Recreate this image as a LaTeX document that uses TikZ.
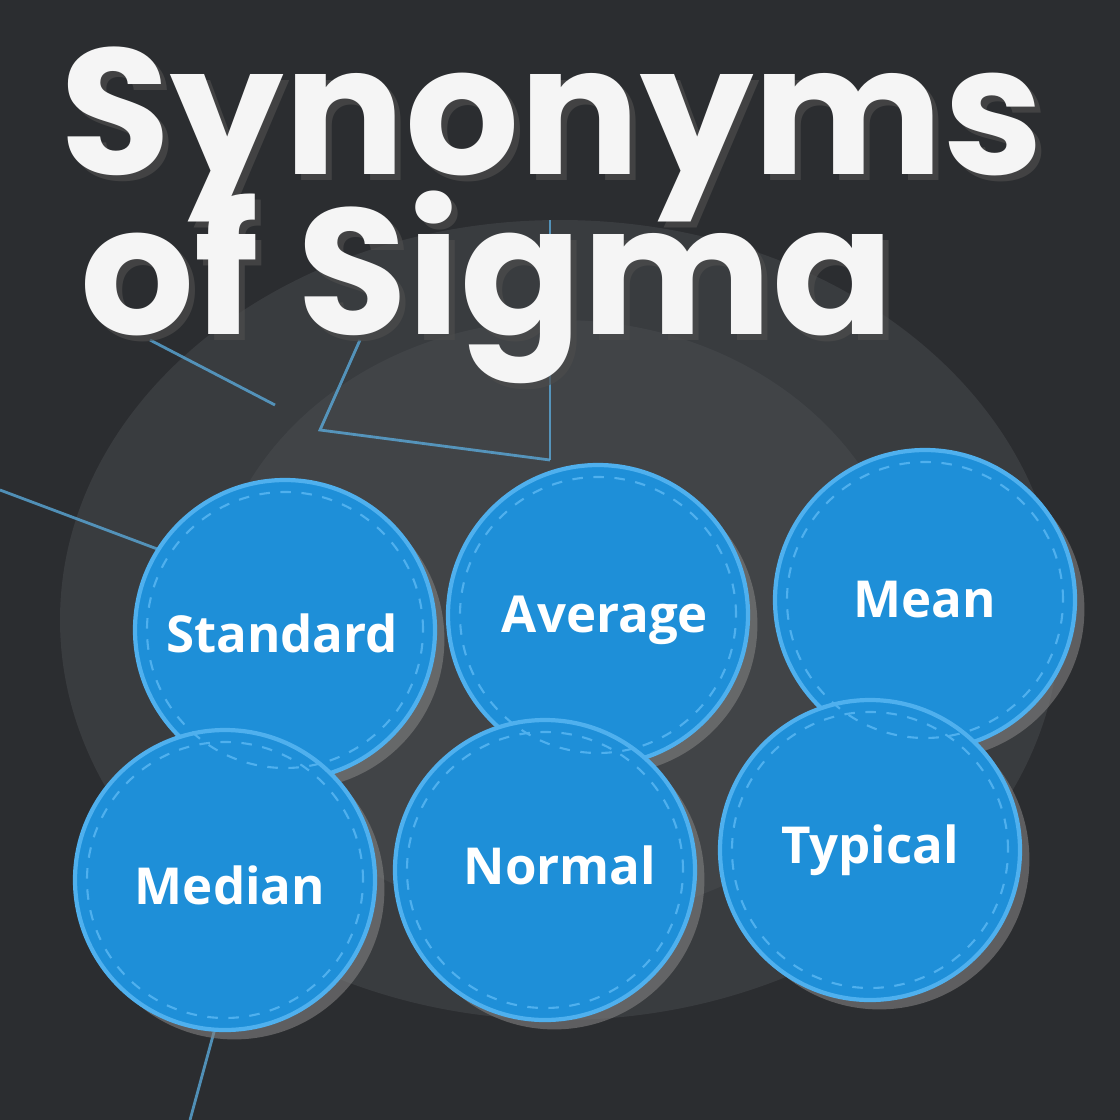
\documentclass[tikz,border=0pt]{standalone}
\usepackage{fontspec}
\setmainfont{Open Sans}
\newfontfamily\titlefont{Poppins}
\usetikzlibrary{shadows}
\definecolor{bg}{HTML}{2B2D30}
\definecolor{bgl}{HTML}{55585C}
\definecolor{ball}{HTML}{1E8FD8}
\definecolor{ballrim}{HTML}{4FB0EE}
\definecolor{wire}{HTML}{5AA8D8}
\tikzset{
  ballnode/.style={circle, minimum size=3cm, fill=ball, draw=ballrim, line width=1.2pt, drop shadow={opacity=0.6}},
  balltext/.style={text=white, font=\bfseries\fontsize{14.5}{17}\selectfont},
  wireline/.style={draw=wire, line width=0.8pt, opacity=0.8},
  titletext/.style={text=white!92!gray, font=\titlefont\bfseries\fontsize{51}{60}\selectfont, anchor=base west, inner sep=0pt}
}
\begin{document}
\begin{tikzpicture}
\useasboundingbox (0,0) rectangle (11.2,-11.2);
\fill[bg] (0,0) rectangle (11.2,-11.2);
\fill[bgl, opacity=0.35] (5.6,-6.2) ellipse (5 and 4);
\fill[bgl, opacity=0.3] (5.6,-6.2) ellipse (3.5 and 3);
% wires
\coordinate (w1) at (0,-4.9);
\coordinate (w2) at (1.6,-5.5);
\coordinate (w3) at (3.6,-3.4);
\coordinate (w4) at (3.2,-4.3);
\coordinate (w5) at (5.5,-4.6);
\coordinate (w6) at (5.5,-2.2);
\coordinate (w7) at (1.9,-11.2);
\coordinate (w8) at (2.2,-10.1);
\coordinate (w9) at (1.5,-3.4);
\coordinate (w10) at (2.75,-4.05);
\draw[wireline] (w1) -- (w2);
\draw[wireline] (w3) -- (w4) -- (w5);
\draw[wireline] (w6) -- (w5);
\draw[wireline] (w7) -- (w8);
\draw[wireline] (w9) -- (w10);
% balls
\node[ballnode] (standard) at (2.85,-6.3) {};
\node[ballnode] (average) at (5.98,-6.15) {};
\node[ballnode] (mean) at (9.25,-6.0) {};
\node[ballnode] (median) at (2.25,-8.8) {};
\node[ballnode] (normal) at (5.45,-8.7) {};
\node[ballnode] (typical) at (8.7,-8.5) {};
\foreach \n in {standard,average,mean,median,normal,typical}{
  \draw[ballrim, dashed, line width=0.6pt] (\n.center) circle (1.38);
}
\node[balltext] (tstandard) at (2.82,-6.33) {Standard};
\node[balltext] (taverage) at (6.05,-6.2) {Average};
\node[balltext] (tmean) at (9.25,-6.0) {Mean};
\node[balltext] (tmedian) at (2.3,-8.85) {Median};
\node[balltext] (tnormal) at (5.6,-8.65) {Normal};
\node[balltext] (ttypical) at (8.7,-8.5) {Typical};
% title
\node[titletext, text=black!70, opacity=0.7] (sh1) at (0.66,-1.8) {Synonyms};
\node[titletext] (title1) at (0.6,-1.74) {Synonyms};
\node[titletext, text=black!70, opacity=0.7] (sh2) at (0.86,-3.4) {of Sigma};
\node[titletext] (title2) at (0.8,-3.34) {of Sigma};
\end{tikzpicture}
\end{document}
